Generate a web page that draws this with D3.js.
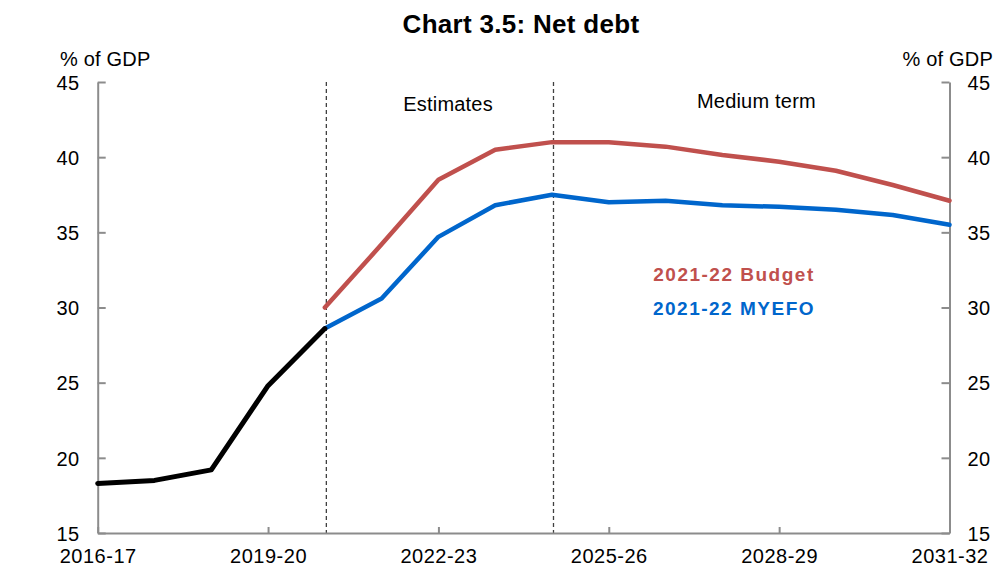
<!DOCTYPE html>
<html>
<head>
<meta charset="utf-8">
<script src="https://cdn.jsdelivr.net/npm/d3@7"></script>
<style>
  html, body { margin: 0; padding: 0; background: #fff; }
  text { font-family: "Liberation Sans", Arial, sans-serif; }
</style>
</head>
<body>
<svg id="chart" width="998" height="572"></svg>
<script>
const years = ["2016-17","2017-18","2018-19","2019-20","2020-21","2021-22","2022-23","2023-24","2024-25","2025-26","2026-27","2027-28","2028-29","2029-30","2030-31","2031-32"];
const actual = [18.3, 18.5, 19.2, 24.8, 28.6, null, null, null, null, null, null, null, null, null, null, null];
const budget = [null, null, null, null, 30.0, 34.2, 38.5, 40.5, 41.0, 41.0, 40.7, 40.15, 39.7, 39.1, 38.15, 37.1];
const myefo  = [null, null, null, null, 28.6, 30.6, 34.7, 36.8, 37.5, 37.0, 37.1, 36.8, 36.7, 36.5, 36.15, 35.5];
const yTicks = [15, 20, 25, 30, 35, 40, 45];
const xLabelYears = ["2016-17","2019-20","2022-23","2025-26","2028-29","2031-32"];
const dividerYears = ["2020-21","2024-25"];
const periodLabels = [{text: "Estimates", at: 6.17, base: 111}, {text: "Medium term", at: 11.6, base: 108}];
const legend = [{text: "2021-22 Budget", color: "#C0504D"}, {text: "2021-22 MYEFO", color: "#0066CC"}];

const svg = d3.select("#chart");
const L = 97.7, R = 949.5, T = 82, B = 533;
const x = d3.scaleLinear().domain([0, years.length - 1]).range([L, R]);
const y = d3.scaleLinear().domain([15, 45]).range([B, T]);
const axisColor = "#8c8c8c";

// Title
svg.append("text").attr("x", 521).attr("y", 33).attr("text-anchor", "middle")
  .attr("font-size", 26).attr("font-weight", "bold").attr("letter-spacing", 0.3)
  .text("Chart 3.5: Net debt");

// Unit labels
svg.append("text").attr("x", 60).attr("y", 66).attr("font-size", 20).attr("letter-spacing", 0.2).text("% of GDP");
svg.append("text").attr("x", 993).attr("y", 66).attr("text-anchor", "end").attr("font-size", 20).attr("letter-spacing", 0.2).text("% of GDP");

// Divider lines
svg.selectAll(".div").data(dividerYears).enter().append("line")
  .attr("x1", d => x(years.indexOf(d)) + 1.5).attr("x2", d => x(years.indexOf(d)) + 1.5)
  .attr("y1", T).attr("y2", B)
  .attr("stroke", "#404040").attr("stroke-width", 1.3).attr("stroke-dasharray", "4,3");

// Period labels
svg.selectAll(".pl").data(periodLabels).enter().append("text")
  .attr("x", d => x(d.at)).attr("y", d => d.base).attr("text-anchor", "middle")
  .attr("font-size", 20).attr("letter-spacing", 0.2).text(d => d.text);

// Y axes
const yAxisL = d3.axisLeft(y).tickValues(yTicks).tickSizeInner(-8).tickSizeOuter(0).tickPadding(18);
const gl = svg.append("g").attr("transform", `translate(${L},0)`).call(yAxisL);
const yAxisR = d3.axisRight(y).tickValues(yTicks).tickSizeInner(-8).tickSizeOuter(0).tickPadding(18);
const gr = svg.append("g").attr("transform", `translate(${R},0)`).call(yAxisR);
[gl, gr].forEach(g => {
  g.select(".domain").attr("stroke", axisColor).attr("stroke-width", 2);
  g.selectAll(".tick line").attr("stroke", axisColor).attr("stroke-width", 2);
  g.selectAll(".tick text").attr("font-size", 20).attr("fill", "#000").attr("letter-spacing", 0.5)
    .attr("font-family", "Liberation Sans, Arial, sans-serif").attr("dy", "0.36em");
});

// X axis
const xAxis = d3.axisBottom(x).tickValues(d3.range(years.length).filter(i => xLabelYears.includes(years[i])))
  .tickFormat(i => years[i]).tickSizeInner(-6).tickSizeOuter(0).tickPadding(16);
const gx = svg.append("g").attr("transform", `translate(0,${B})`).call(xAxis);
gx.select(".domain").attr("stroke", axisColor).attr("stroke-width", 2);
gx.selectAll(".tick line").attr("stroke", axisColor).attr("stroke-width", 2);
gx.selectAll(".tick text").attr("font-size", 20).attr("fill", "#000").attr("letter-spacing", 0.5)
  .attr("font-family", "Liberation Sans, Arial, sans-serif");

// Lines
const line = d3.line().defined(d => d.v !== null).x(d => x(d.i)).y(d => y(d.v));
const series = [
  {vals: budget, color: "#C0504D", w: 4.5},
  {vals: myefo, color: "#0066CC", w: 4.5},
  {vals: actual, color: "#000000", w: 5}
];
series.forEach(s => {
  svg.append("path").datum(s.vals.map((v, i) => ({i, v})))
    .attr("d", line).attr("fill", "none").attr("stroke", s.color)
    .attr("stroke-width", s.w).attr("stroke-linejoin", "round").attr("stroke-linecap", "round");
});

// Legend
svg.selectAll(".lg").data(legend).enter().append("text")
  .attr("x", 734).attr("y", (d, i) => 281 + i * 34).attr("text-anchor", "middle")
  .attr("font-size", 19).attr("font-weight", "bold").attr("letter-spacing", 1.5)
  .attr("fill", d => d.color).text(d => d.text);
</script>
</body>
</html>
